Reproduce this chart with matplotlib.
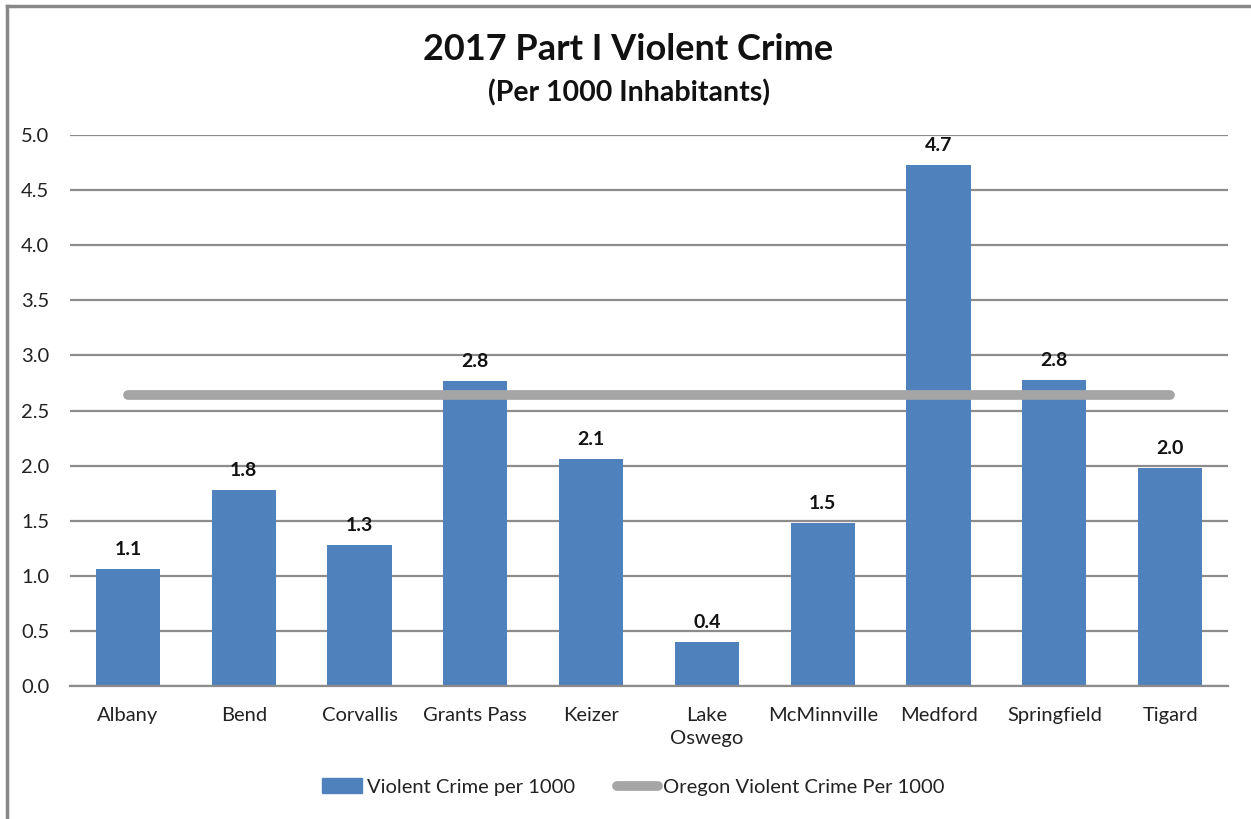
import matplotlib
matplotlib.use("Agg")
import matplotlib.pyplot as plt
from matplotlib.patches import Rectangle
from matplotlib.lines import Line2D

plt.rcParams['font.family'] = ['Lato', 'DejaVu Sans']

cities = ["Albany", "Bend", "Corvallis", "Grants Pass", "Keizer",
          "Lake\nOswego", "McMinnville", "Medford", "Springfield", "Tigard"]
violent_per_1000 = [1.06, 1.78, 1.28, 2.77, 2.06, 0.40, 1.48, 4.73, 2.78, 1.98]
oregon_per_1000 = 2.64
y_ticks = [0.0, 0.5, 1.0, 1.5, 2.0, 2.5, 3.0, 3.5, 4.0, 4.5, 5.0]

bar_color = "#4F81BD"
line_color = "#A5A5A5"
grid_color = "#8C8C8C"

W, H = 1251, 819
fig = plt.figure(figsize=(W / 100, H / 100), dpi=100)
ax = fig.add_axes([70 / W, 1 - 686 / H, (1228 - 70) / W, (686 - 135) / H])

x = list(range(len(cities)))
ax.bar(x, violent_per_1000, width=0.556, color=bar_color, zorder=2,
       label="Violent Crime per 1000")
ax.plot([x[0], x[-1]], [oregon_per_1000] * 2, color=line_color, lw=7,
        solid_capstyle="round", zorder=3, label="Oregon Violent Crime Per 1000")

for xi, v in zip(x, violent_per_1000):
    ax.annotate(f"{v:.1f}", (xi, v), xytext=(0, 8), textcoords="offset points",
                ha="center", va="bottom", fontsize=14, fontweight="bold",
                color="#111111")

ax.set_xlim(-0.5, len(cities) - 0.5)
ax.set_ylim(0, 5.0)
ax.set_yticks(y_ticks)
ax.set_yticklabels([f"{t:.1f}" for t in y_ticks], fontsize=14.5, color="#222222")
ax.set_xticks(x)
ax.set_xticklabels(cities, fontsize=14.5, color="#222222", linespacing=1.45)
ax.tick_params(axis="both", length=0)
ax.tick_params(axis="x", pad=15)
ax.tick_params(axis="y", pad=15)
ax.grid(axis="y", color=grid_color, lw=1.6, zorder=0)
for side in ("left", "right", "top"):
    ax.spines[side].set_visible(False)
ax.spines["bottom"].set_color(grid_color)
ax.spines["bottom"].set_linewidth(1.6)
ax.set_axisbelow(True)

fig.text(628 / W, 1 - 49 / H, "2017 Part I Violent Crime", ha="center", va="center",
         fontsize=26, fontweight="bold", color="#111111")
fig.text(629 / W, 1 - 93 / H, "(Per 1000 Inhabitants)", ha="center", va="center",
         fontsize=20.5, fontweight="bold", color="#111111")

handles = [Rectangle((0, 0), 1, 1, color=bar_color),
           Line2D([0], [0], color=line_color, lw=7, solid_capstyle="round")]
labels = ["Violent Crime per 1000", "Oregon Violent Crime Per 1000"]
fig.legend(handles, labels, loc="center", bbox_to_anchor=(633 / W, 1 - 787 / H),
           ncol=2, frameon=False, fontsize=14.5, handlelength=2.0, handleheight=0.7,
           handletextpad=0.25, columnspacing=2.1, labelcolor="#222222")

# outer chart frame
fig.add_artist(Line2D([7 / W, 7 / W], [0, 1 - 6 / H], color="#888888", lw=2.5,
                      transform=fig.transFigure))
fig.add_artist(Line2D([7 / W, 1], [1 - 6 / H, 1 - 6 / H], color="#888888", lw=2.5,
                      transform=fig.transFigure))

fig.savefig("out.png", dpi=100, facecolor="white")
